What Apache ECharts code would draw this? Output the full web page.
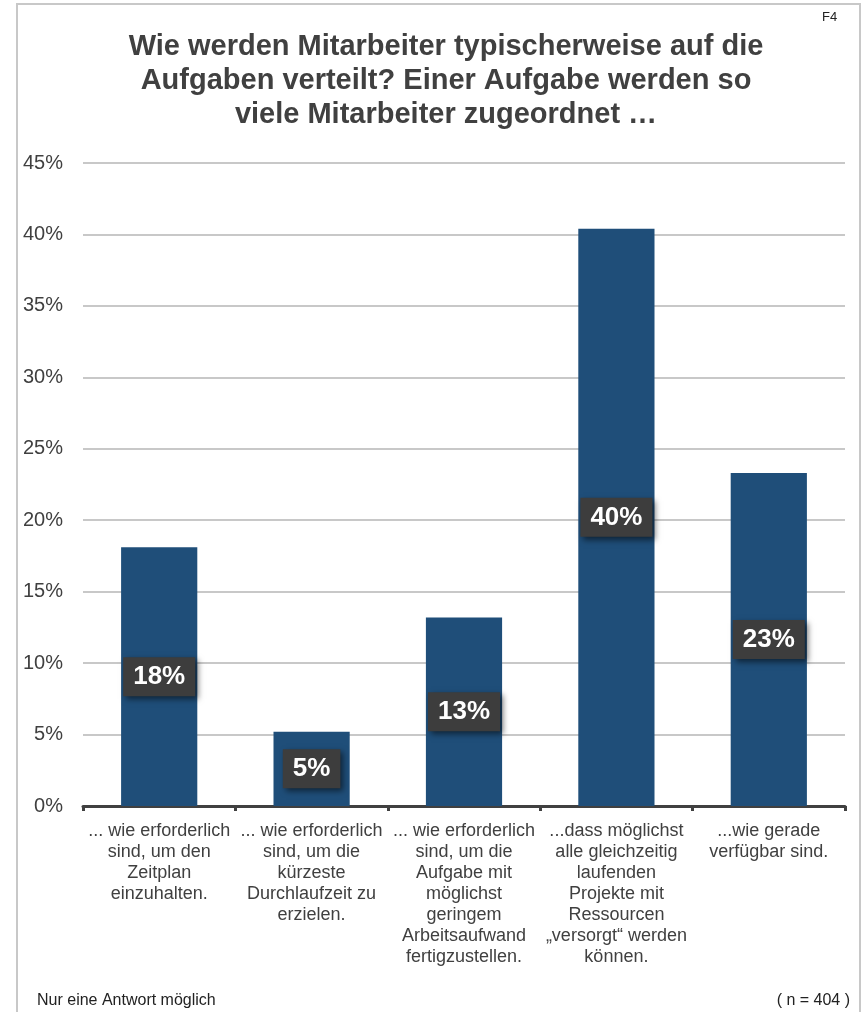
<!DOCTYPE html>
<html>
<head>
<meta charset="utf-8">
<script src="https://cdn.jsdelivr.net/npm/echarts@6/dist/echarts.min.js"></script>
<style>
    html, body { margin: 0; padding: 0; background: #ffffff; }
    #chart { width: 867px; height: 1012px; }
</style>
</head>
<body>
<div id="chart"></div>
<script>
var titleText = "Wie werden Mitarbeiter typischerweise auf die\nAufgaben verteilt? Einer Aufgabe werden so\nviele Mitarbeiter zugeordnet \u2026";

// Kategorien (Achsenbeschriftung)
var categories = [
    "... wie erforderlich\nsind, um den\nZeitplan\neinzuhalten.",
    "... wie erforderlich\nsind, um die\nkürzeste\nDurchlaufzeit zu\nerzielen.",
    "... wie erforderlich\nsind, um die\nAufgabe mit\nmöglichst\ngeringem\nArbeitsaufwand\nfertigzustellen.",
    "...dass möglichst\nalle gleichzeitig\nlaufenden\nProjekte mit\nRessourcen\n„versorgt“ werden\nkönnen.",
    "...wie gerade\nverfügbar sind."
];

// Anteile in %
var values = [18.1, 5.2, 13.2, 40.4, 23.3];

// y-Achse
var yMin = 0;
var yMax = 45;
var yStep = 5;

var footLeft = "Nur eine Antwort möglich";
var footRight = "( n = 404 )";
var figId = "F4";

var fontFamily = '"Liberation Sans", Arial, Helvetica, sans-serif';

function chart() {
    var myChart = echarts.init(document.getElementById("chart"));

    var option = {
        backgroundColor: "#ffffff",
        animation: false,
        title: {
            text: titleText,
            left: 441,
            top: 25,
            textAlign: "center",
            textStyle: {
                fontFamily: fontFamily,
                fontSize: 29,
                fontWeight: "bold",
                color: "#404040",
                lineHeight: 34,
            },
        },
        grid: {
            left: 83,
            right: 22,
            top: 163,
            bottom: 206,
        },
        xAxis: {
            type: "category",
            data: categories,
            axisLine: {
                lineStyle: { color: "#404040", width: 3 },
            },
            axisTick: {
                show: true,
                length: 5,
                lineStyle: { color: "#404040", width: 3 },
            },
            axisLabel: {
                interval: 0,
                margin: 15,
                fontFamily: fontFamily,
                fontSize: 18,
                lineHeight: 21,
                color: "#404040",
            },
        },
        yAxis: {
            type: "value",
            min: yMin,
            max: yMax,
            interval: yStep,
            axisLine: { show: false },
            axisTick: { show: false },
            axisLabel: {
                margin: 20,
                fontFamily: fontFamily,
                fontSize: 20,
                color: "#404040",
                formatter: "{value}%",
            },
            splitLine: {
                lineStyle: { color: "#c8c8c8", width: 2 },
            },
        },
        series: [
            {
                name: "Anteil",
                type: "bar",
                barWidth: "50%",
                data: values,
                itemStyle: { color: "#1F4E79" },
                label: {
                    show: true,
                    position: "inside",
                    formatter: function (p) {
                        return Math.round(p.value) + "%";
                    },
                    fontFamily: fontFamily,
                    fontSize: 26,
                    fontWeight: "bold",
                    color: "#ffffff",
                    backgroundColor: "#3d3d3d",
                    padding: [7, 10, 6, 10],
                    shadowColor: "rgba(0,0,0,0.55)",
                    shadowBlur: 6,
                    shadowOffsetX: 3,
                    shadowOffsetY: 3,
                },
            },
        ],
        graphic: [
            {
                type: "rect",
                shape: { x: 17, y: 4, width: 843, height: 1030 },
                style: { fill: "none", stroke: "#c8c8c8", lineWidth: 2 },
                silent: true,
                z: -1,
            },
            {
                type: "text",
                left: 822,
                top: 11,
                style: {
                    text: figId,
                    fontFamily: fontFamily,
                    fontSize: 13,
                    fill: "#222222",
                },
            },
            {
                type: "text",
                left: 37,
                top: 993,
                style: {
                    text: footLeft,
                    fontFamily: fontFamily,
                    fontSize: 16,
                    fill: "#222222",
                },
            },
            {
                type: "text",
                right: 17,
                top: 993,
                style: {
                    text: footRight,
                    fontFamily: fontFamily,
                    fontSize: 16,
                    fill: "#222222",
                },
            },
        ],
    };

    myChart.setOption(option);
    window.addEventListener("resize", function () {
        myChart.resize();
    });
}

chart();
</script>
</body>
</html>
